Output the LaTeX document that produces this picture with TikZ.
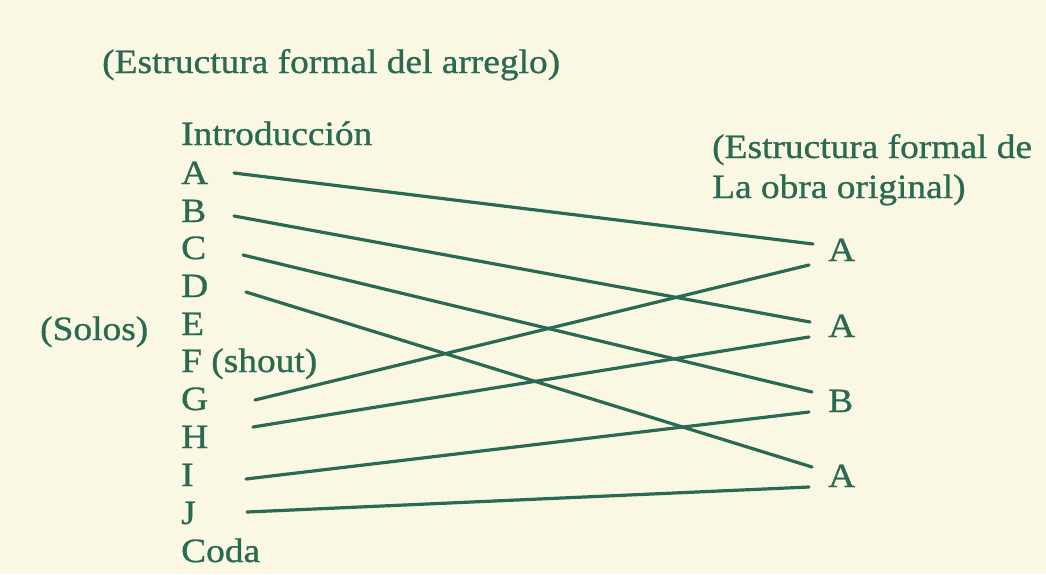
\documentclass[tikz,border=0pt]{standalone}
\usepackage{fontspec}
\setmainfont{Liberation Serif}[FakeStretch=1.1,FakeBold=0.9]
\definecolor{paper}{HTML}{FAF8E2}
\definecolor{ink}{HTML}{2A6A52}
\begin{document}
\begin{tikzpicture}[x=1pt,y=-1pt,
  lbl/.style={anchor=base west,inner sep=0pt,text=ink,font=\fontsize{34}{40}\selectfont},
  link/.style={draw=ink,line width=3.2pt,line cap=round}]
\fill[paper] (0,0) rectangle (1046,574);
\useasboundingbox (0,0) rectangle (1046,574);
% titles
\node[lbl] (t1) at (102,73) {(Estructura formal del arreglo)};
\node[lbl] (t2) at (712,158) {(Estructura formal de};
\node[lbl] (t3) at (712,198) {La obra original)};
\node[lbl] (solos) at (40,340) {(Solos)};
% left list
\node[lbl] (intro) at (181,145) {Introducción};
\node[lbl] (lA) at (181,184) {A};
\node[lbl] (lB) at (181,222) {B};
\node[lbl] (lC) at (181,259) {C};
\node[lbl] (lD) at (181,297) {D};
\node[lbl] (lE) at (181,335) {E};
\node[lbl] (lF) at (181,372) {F (shout)};
\node[lbl] (lG) at (181,410) {G};
\node[lbl] (lH) at (181,448) {H};
\node[lbl] (lI) at (181,486) {I};
\node[lbl] (lJ) at (181,524) {J};
\node[lbl] (coda) at (181,562) {Coda};
% right list
\node[lbl] (r1) at (828,261) {A};
\node[lbl] (r2) at (828,337) {A};
\node[lbl] (r3) at (828,412) {B};
\node[lbl] (r4) at (828,487) {A};
% connector ends
\coordinate (sA) at (234,173);
\coordinate (sB) at (234,216);
\coordinate (sC) at (243,255);
\coordinate (sD) at (246,292);
\coordinate (sG) at (255,400);
\coordinate (sH) at (253,427);
\coordinate (sI) at (246,479);
\coordinate (sJ) at (247,512);
\coordinate (e1) at (813,244);
\coordinate (e1b) at (809,265);
\coordinate (e2) at (810,322);
\coordinate (e2b) at (809,337);
\coordinate (e3) at (812,392);
\coordinate (e3b) at (809,412);
\coordinate (e4) at (812,467);
\coordinate (e4b) at (809,487);
\draw[link] (sA) -- (e1);
\draw[link] (sB) -- (e2);
\draw[link] (sC) -- (e3);
\draw[link] (sD) -- (e4);
\draw[link] (sG) -- (e1b);
\draw[link] (sH) -- (e2b);
\draw[link] (sI) -- (e3b);
\draw[link] (sJ) -- (e4b);
\end{tikzpicture}
\end{document}
